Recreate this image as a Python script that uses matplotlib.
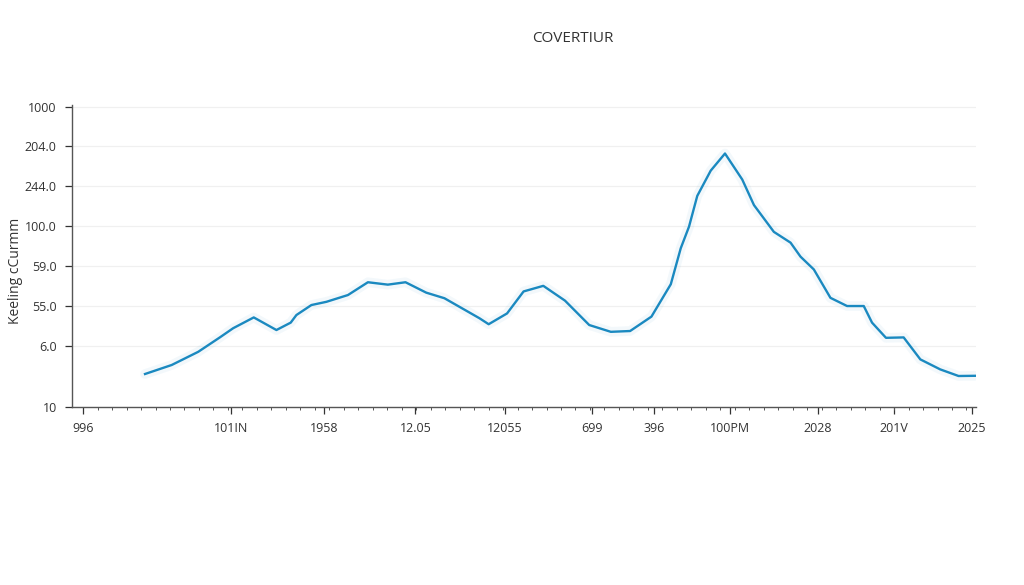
import numpy as np
import matplotlib.pyplot as plt
from matplotlib.ticker import MultipleLocator

# =========================
# DATA
# =========================
x_pos = [6.97, 9.97, 12.96, 15.39, 16.89, 19.21, 21.76, 23.37, 24.01, 25.70,
         27.38, 29.81, 32.06, 34.30, 36.29, 38.62, 40.67, 44.61, 45.65, 47.72,
         49.58, 51.80, 54.24, 56.97, 59.40, 61.57, 63.97, 66.15, 67.27, 68.20,
         69.13, 70.64, 72.25, 74.19, 75.51, 77.75, 79.63, 80.75, 82.25, 84.12,
         85.99, 87.87, 88.80, 90.37, 92.36, 94.24, 96.48, 98.54, 100.4]
values = [8.25, 10.5, 13.8, 17.4, 19.7, 22.4, 19.25, 21.1, 23.0, 25.5,
          26.3, 28.0, 31.2, 30.6, 31.2, 28.6, 27.2, 22.2, 20.7, 23.4,
          28.9, 30.3, 26.6, 20.5, 18.8, 19.0, 22.6, 30.7, 39.7, 45.1,
          52.8, 59.1, 63.4, 56.9, 50.5, 43.8, 41.1, 37.6, 34.4, 27.3,
          25.25, 25.25, 21.1, 17.3, 17.4, 11.9, 9.4, 7.75, 7.8]

x_ticks = [0, 16.7, 27.1, 37.4, 47.5, 57.3, 64.3, 72.8, 82.7, 91.3, 100]
x_labels = ["996", "101IN", "1958", "12.05", "12055", "699", "396",
            "100PM", "2028", "201V", "2025"]

y_ticks = [0, 15.25, 25.25, 35.25, 45.25, 55.25, 65.25, 75]
y_labels = ["10", "6.0", "55.0", "59.0", "100.0", "244.0", "204.0", "1000"]

# =========================
# PLOT
# =========================
plt.rcParams['font.family'] = ['Open Sans', 'DejaVu Sans']

fig = plt.figure(figsize=(10.24, 5.85), dpi=100)
ax = fig.add_axes([0.0703, 0.3043, 0.8828, 0.516])

line_color = "#1a89c0"
ax.plot(x_pos, values, color=line_color, lw=7, alpha=0.05, solid_capstyle="round")
ax.plot(x_pos, values, color=line_color, lw=1.7, solid_joinstyle="round")

ax.set_xlim(-1.25, 100.5)
ax.set_ylim(0, 75.5)

ax.set_xticks(x_ticks)
ax.set_xticklabels(x_labels)
ax.xaxis.set_minor_locator(MultipleLocator(1.63))
ax.set_yticks(y_ticks)
ax.set_yticklabels(y_labels)

ax.tick_params(axis="both", labelsize=9, colors="#333333", width=0.9)
ax.tick_params(axis="x", which="major", length=5, pad=6)
ax.tick_params(axis="x", which="minor", length=2.5, width=0.7, color="#555555")
ax.tick_params(axis="y", length=5, pad=6)

for s in ["top", "right"]:
    ax.spines[s].set_visible(False)
for s in ["left", "bottom"]:
    ax.spines[s].set_color("#555555")
    ax.spines[s].set_linewidth(1.0)

ax.grid(axis="y", color="#f0f0f0", lw=0.9)
ax.set_axisbelow(True)

ax.set_ylabel("Keeling cCurmm", fontsize=10, color="#333333")
ax.yaxis.set_label_coords(-0.054, 0.45)
fig.text(573 / 1024, 1 - 38 / 585, "COVERTIUR", ha="center", va="center",
         fontsize=11, color="#333333")

fig.savefig("out.png", dpi=100)
